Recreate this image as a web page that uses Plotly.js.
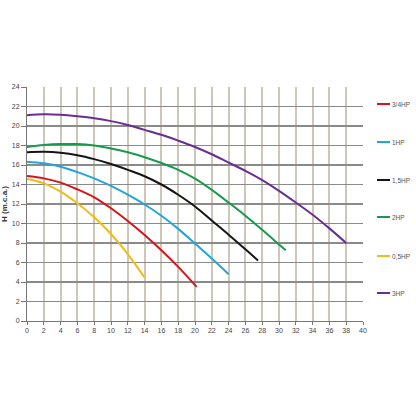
<!DOCTYPE html>
<html><head><meta charset="utf-8">
<script src="https://cdn.plot.ly/plotly-3.0.1.min.js"></script>
<style>html,body{margin:0;padding:0;background:#fff;}#c{width:416px;height:416px;}</style>
</head><body><div id="c"></div>
<script>
const names = ["3/4HP","1HP","1,5HP","2HP","0,5HP","3HP"];
const colors = ["#d5141b","#21a5dc","#151515","#179a4b","#f2bb17","#6a2d93"];
const q075 = [0,2,4,6,8,10,12,14,16,18,20.2];
const h075 = [14.87,14.63,14.19,13.5,12.69,11.56,10.26,8.82,7.25,5.55,3.5];
const q1 = [0,2,4,6,8,10,12,14,16,18,20,22,24];
const h1 = [16.34,16.17,15.83,15.27,14.63,13.85,12.95,11.95,10.8,9.45,7.95,6.4,4.8];
const q15 = [0,2,4,6,8,10,12,14,16,18,20,22,24,26,27.5];
const h15 = [17.3,17.35,17.25,17.0,16.6,16.1,15.5,14.85,14.0,12.95,11.75,10.3,8.85,7.35,6.2];
const q2 = [0,2,4,6,8,10,12,14,16,18,20,22,24,26,28,30,30.8];
const h2 = [17.85,18.05,18.15,18.15,18.0,17.7,17.3,16.8,16.2,15.5,14.6,13.45,12.15,10.8,9.35,7.85,7.25];
const q05 = [0,2,4,6,8,10,12,14];
const h05 = [14.56,14.12,13.27,12.07,10.63,8.92,6.87,4.45];
const q3 = [0,2,4,6,8,10,12,14,16,18,20,22,24,26,28,30,32,34,36,38];
const h3 = [21.1,21.2,21.15,21.0,20.8,20.5,20.1,19.6,19.1,18.5,17.85,17.1,16.25,15.4,14.45,13.35,12.15,10.9,9.5,8.0];
const xTicks = [0,2,4,6,8,10,12,14,16,18,20,22,24,26,28,30,32,34,36,38,40];
const yTicks = [0,2,4,6,8,10,12,14,16,18,20,22,24];

const series = [[q075,h075],[q1,h1],[q15,h15],[q2,h2],[q05,h05],[q3,h3]];
const traces = series.map((s,i)=>({
  x:s[0], y:s[1], type:'scatter', mode:'lines', name:names[i],
  line:{color:colors[i], width:2, shape:'spline', smoothing:1},
  showlegend:false, hoverinfo:'skip'
}));

// legend built as shapes + text (plot area: x 27..363, y 87..321 px)
const legY = [104,142,180,217,256,293];
const shapes = [], annotations = [];
legY.forEach((py,i)=>{
  shapes.push({type:'line', xref:'paper', yref:'paper', layer:'above',
    x0:(377-27)/336, x1:(390-27)/336, y0:(321-py)/234, y1:(321-py)/234,
    line:{color:colors[i], width:2}});
  annotations.push({xref:'paper', yref:'paper', x:(390-27)/336, y:(321-py)/234,
    text:names[i], showarrow:false, xanchor:'left', yanchor:'middle',
    font:{family:'Liberation Sans, Arial, sans-serif', size:6.5, color:'#555'}});
});

const layout = {
  width:416, height:416,
  margin:{l:27, r:53, t:87, b:95},
  paper_bgcolor:'#fff', plot_bgcolor:'#fff',
  font:{family:'Liberation Sans, Arial, sans-serif', size:7, color:'#444'},
  xaxis:{range:[0,40], tickvals:xTicks, ticktext:xTicks.map(String),
    showgrid:true, gridcolor:'#cdc8b6', gridwidth:2,
    zeroline:false, showline:true, linecolor:'#777', linewidth:1,
    ticks:'outside', ticklen:3, tickcolor:'#777', fixedrange:true,
    tickfont:{size:7, color:'#444'}},
  yaxis:{range:[0,24], tickvals:yTicks, ticktext:yTicks.map(String),
    showgrid:true, gridcolor:'#8a8a8a', gridwidth:1.5,
    zeroline:false, showline:true, linecolor:'#777', linewidth:1,
    ticks:'outside', ticklen:5, tickcolor:'#777', fixedrange:true,
    tickfont:{size:7, color:'#444'},
    title:{text:'<b>H (m.c.a.)</b>', font:{size:8, color:'#333'}, standoff:3}},
  shapes:shapes, annotations:annotations, showlegend:false
};
Plotly.newPlot('c', traces, layout, {staticPlot:true, displayModeBar:false});
</script></body></html>
